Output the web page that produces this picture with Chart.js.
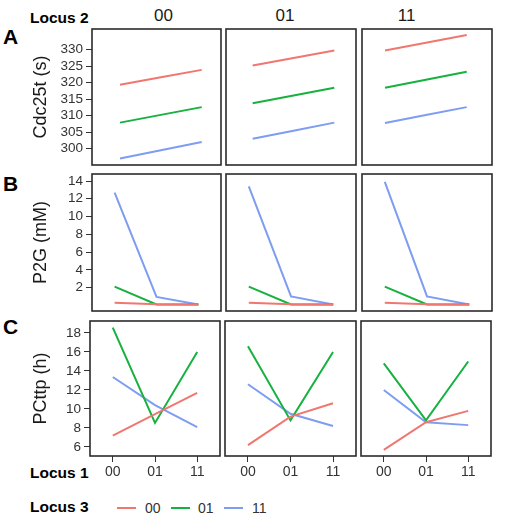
<!DOCTYPE html>
<html>
<head>
<meta charset="utf-8">
<script src="https://cdn.jsdelivr.net/npm/chart.js@4.4.1/dist/chart.umd.min.js"></script>
<style>
  html, body { margin:0; padding:0; background:#fff; }
  body { width:515px; height:518px; position:relative; overflow:hidden; font-family:"Liberation Sans", Arial, sans-serif; color:#1a1a1a; }
  canvas { position:absolute; }
  .lbl { position:absolute; line-height:1; white-space:nowrap; transform:translateY(-50%); }
  .b { font-weight:bold; color:#000; }
  .c { transform:translate(-50%,-50%); }
  .key { position:absolute; height:2px; width:19px; }
</style>
</head>
<body>
<div class="lbl b" style="left:3px;top:35.5px;font-size:21px">A</div>
<div class="lbl b" style="left:3px;top:182.5px;font-size:21px">B</div>
<div class="lbl b" style="left:3px;top:326px;font-size:21px">C</div>
<div class="lbl b" style="left:30px;top:18px;font-size:15.5px">Locus 2</div>
<div class="lbl c" style="left:163.5px;top:14.5px;font-size:17px">00</div>
<div class="lbl c" style="left:285px;top:14.5px;font-size:17px">01</div>
<div class="lbl c" style="left:406.7px;top:14.5px;font-size:17px">11</div>
<div class="lbl b" style="left:30px;top:472.5px;font-size:15.5px">Locus 1</div>
<div class="lbl b" style="left:30px;top:507px;font-size:15.5px">Locus 3</div>
<div id="legend"></div>

<script>
// Locus 1 on x, Locus 2 = panel column, Locus 3 = line colour
const locus1 = ['00','01','11'];
const locus2 = ['00','01','11'];
const locus3 = ['00','01','11'];
const seriesColors = ['#F0776F','#16B13E','#7E9DF2'];

// A: Cdc25t (s)   [locus2][locus3] -> values over locus1
const cdcL2_00 = [[319.4,321.65,323.9],[307.9,310.25,312.6],[297.0,299.5,302.0]];
const cdcL2_01 = [[325.2,327.5,329.8],[313.8,316.15,318.5],[303.0,305.45,307.9]];
const cdcL2_11 = [[329.8,332.15,334.5],[318.5,320.9,323.3],[307.8,310.2,312.6]];
const cdcTicks = [300,305,310,315,320,325,330];

// B: P2G (mM)
const p2gL2_00 = [[0.3,0.12,0.1],[2.1,0.1,0.1],[12.7,0.94,0.1]];
const p2gL2_01 = [[0.3,0.12,0.1],[2.1,0.1,0.1],[13.4,1.0,0.1]];
const p2gL2_11 = [[0.3,0.12,0.1],[2.1,0.1,0.1],[13.9,1.0,0.1]];
const p2gTicks = [2,4,6,8,10,12,14];

// C: PCttp (h)
const pcL2_00 = [[7.2,9.45,11.7],[18.57,8.53,16.0],[13.37,10.4,8.1]];
const pcL2_01 = [[6.2,9.2,10.6],[16.6,8.8,16.0],[12.6,9.5,8.2]];
const pcL2_11 = [[5.7,8.6,9.8],[14.8,8.8,15.0],[12.0,8.6,8.3]];
const pcTicks = [6,8,10,12,14,16,18];

// layout of the 3x3 panel grid (px)
const ROWS = [
  { title:'Cdc25t (s)', data:[cdcL2_00,cdcL2_01,cdcL2_11], ticks:cdcTicks, yMin:295.04, yMax:336.3,
    top:29, bottom:165, cols:[[92,221],[226,356],[362,492]],
    xr:[[-0.685,2.472],[-0.654,2.532],[-0.563,2.619]] },
  { title:'P2G (mM)', data:[p2gL2_00,p2gL2_01,p2gL2_11], ticks:p2gTicks, yMin:-0.64, yMax:14.79,
    top:174, bottom:311, cols:[[92,221],[226,356],[362,492]],
    xr:[[-0.54,2.54],[-0.54,2.54],[-0.54,2.54]] },
  { title:'PCttp (h)', data:[pcL2_00,pcL2_01,pcL2_11], ticks:pcTicks, yMin:5.05, yMax:19.26,
    top:321, bottom:456, cols:[[90,220],[225,356],[361,491]],
    xr:[[-0.54,2.54],[-0.54,2.54],[-0.54,2.54]] }
];

const FONT = '"Liberation Sans", Arial, sans-serif';
const INK = '#333';

const framePlugin = {
  id:'frame',
  afterDraw(chart){
    const a = chart.chartArea, ctx = chart.ctx;
    ctx.save();
    ctx.strokeStyle = '#2b2b2b';
    ctx.lineWidth = 1.6;
    ctx.strokeRect(a.left, a.top, a.right - a.left, a.bottom - a.top);
    ctx.restore();
  }
};

function makePanel(r, c){
  const row = ROWS[r];
  const [L, R] = row.cols[c];
  const T = row.top, B = row.bottom;
  const showY = c === 0, showX = r === 2;
  const cl = showY ? 26 : L - 3;
  const ct = T - 3;
  const cr = R + 3;
  const cb = showX ? B + 28 : B + 3;

  const cv = document.createElement('canvas');
  cv.width = cr - cl; cv.height = cb - ct;
  cv.style.left = cl + 'px'; cv.style.top = ct + 'px';
  document.body.appendChild(cv);

  const vals = row.data[c];
  const datasets = locus3.map((name, i) => ({
    label: name,
    data: locus1.map((_, k) => ({ x:k, y:vals[i][k] })),
    borderColor: seriesColors[i],
    borderWidth: 2,
    pointRadius: 0,
    tension: 0,
    fill: false
  }));

  new Chart(cv.getContext('2d'), {
    type:'line',
    data:{ datasets },
    options:{
      responsive:false, animation:false, devicePixelRatio:1,
      layout:{ padding:{ left:showY?0:3, top:3, right:3, bottom:showX?0:3 } },
      plugins:{ legend:{display:false}, tooltip:{enabled:false} },
      scales:{
        x:{
          type:'linear', min:row.xr[c][0], max:row.xr[c][1], display:showX,
          afterBuildTicks(s){ s.ticks = locus1.map((_, k) => ({ value:k })); },
          afterFit(s){
            if (showX) s.height = cb - B;
            s.paddingLeft = 0; s.paddingRight = 0;   // keep the panel box fixed
          },
          grid:{ drawOnChartArea:false, drawTicks:true, tickLength:6, color:INK, lineWidth:1 },
          border:{ display:false },
          ticks:{ padding:2, maxRotation:0, autoSkip:false, color:INK, font:{ family:FONT, size:14 },
                  callback:(v) => locus1[v] }
        },
        y:{
          type:'linear', min:row.yMin, max:row.yMax, display:showY,
          afterBuildTicks(s){ s.ticks = row.ticks.map(v => ({ value:v })); },
          afterFit(s){
            if (showY) s.width = L - cl;
            s.paddingTop = 0; s.paddingBottom = 0;
          },
          grid:{ drawOnChartArea:false, drawTicks:true, tickLength:6, color:INK, lineWidth:1 },
          border:{ display:false },
          ticks:{ padding:3, autoSkip:false, color:INK, font:{ family:FONT, size:13.5 } },
          title:{ display:true, text:row.title, color:'#1a1a1a', padding:{ top:4, bottom:0 },
                  font:{ family:FONT, size:18 } }
        }
      }
    },
    plugins:[framePlugin]
  });
}

for (let r = 0; r < 3; r++) for (let c = 0; c < 3; c++) makePanel(r, c);

// Locus 3 key
const legendX = [[117,145],[171,198],[224,252]];
const lg = document.getElementById('legend');
locus3.forEach((name, i) => {
  const ln = document.createElement('div');
  ln.className = 'key';
  ln.style.cssText = `left:${legendX[i][0]}px;top:507px;background:${seriesColors[i]}`;
  lg.appendChild(ln);
  const tx = document.createElement('div');
  tx.className = 'lbl';
  tx.style.cssText = `left:${legendX[i][1]}px;top:508px;font-size:14px;color:#333`;
  tx.textContent = name;
  lg.appendChild(tx);
});
</script>
</body>
</html>
